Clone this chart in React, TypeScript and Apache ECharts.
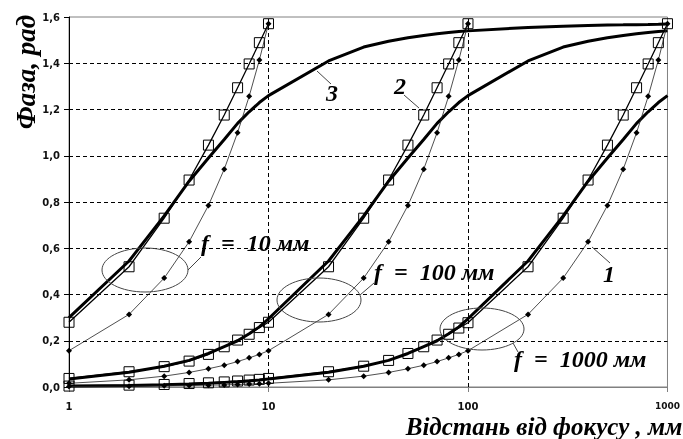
import React, { useEffect, useRef } from "react";
import * as echarts from "echarts";

// distances (mm)
const xF10 = [1, 2, 3, 4, 5, 6, 7, 8, 9, 10];
const xF100 = [1, 2, 3, 4, 5, 6, 7, 8, 9, 10, 20, 30, 40, 50, 60, 70, 80, 90, 100];
const xF1000 = [1, 2, 3, 4, 5, 6, 7, 8, 9, 10, 20, 30, 40, 50, 60, 70, 80, 90, 100, 200, 300, 400, 500, 600, 700, 800, 900, 1000];

// curve 2 (squares)
const sq10 = [0.28, 0.52, 0.73, 0.895, 1.046, 1.176, 1.294, 1.397, 1.489, 1.571];
const sq100 = [0.037, 0.066, 0.088, 0.112, 0.141, 0.174, 0.203, 0.228, 0.257, 0.28, 0.52, 0.73, 0.895, 1.046, 1.176, 1.294, 1.397, 1.489, 1.571];
const sq1000 = [0.004, 0.008, 0.011, 0.015, 0.018, 0.022, 0.026, 0.03, 0.033, 0.037, 0.066, 0.09, 0.115, 0.145, 0.174, 0.203, 0.228, 0.255, 0.278, 0.52, 0.73, 0.895, 1.046, 1.176, 1.294, 1.397, 1.489, 1.571];

// curve 1 (diamonds)
const dm10 = [0.157, 0.314, 0.471, 0.628, 0.785, 0.942, 1.1, 1.257, 1.414, 1.571];
const dm100 = [0.016, 0.031, 0.047, 0.063, 0.079, 0.094, 0.11, 0.126, 0.141, 0.157, 0.314, 0.471, 0.628, 0.785, 0.942, 1.1, 1.257, 1.414, 1.571];
const dm1000 = [0.002, 0.003, 0.005, 0.006, 0.008, 0.009, 0.011, 0.013, 0.014, 0.016, 0.031, 0.047, 0.063, 0.079, 0.094, 0.11, 0.126, 0.141, 0.157, 0.314, 0.471, 0.628, 0.785, 0.942, 1.1, 1.257, 1.414, 1.571];

// curve 3 (thick)
const th10 = [0.3, 0.545, 0.74, 0.89, 0.99, 1.07, 1.14, 1.19, 1.23, 1.26, 1.41, 1.47, 1.495, 1.51, 1.52, 1.528, 1.533, 1.537, 1.54, 1.555, 1.56, 1.563, 1.565, 1.566, 1.567, 1.568, 1.569, 1.57];
const th100 = [0.035, 0.064, 0.09, 0.115, 0.145, 0.175, 0.2, 0.23, 0.26, 0.295, 0.545, 0.74, 0.89, 0.99, 1.07, 1.14, 1.19, 1.23, 1.26, 1.41, 1.47, 1.495, 1.51, 1.52, 1.528, 1.533, 1.537, 1.54];
const th1000 = [0.004, 0.007, 0.01, 0.013, 0.016, 0.02, 0.023, 0.026, 0.03, 0.035, 0.064, 0.09, 0.115, 0.145, 0.175, 0.2, 0.23, 0.26, 0.295, 0.545, 0.74, 0.89, 0.99, 1.07, 1.14, 1.19, 1.23, 1.26];

const gridY = [0.2, 0.4, 0.6, 0.8, 1.0, 1.2, 1.4];
const gridX = [10, 100];

const yTitle = "Фаза, рад";
const xTitle = "Відстань від фокусу , мм";
const focusLabels = ["f  =  10 мм", "f  =  100 мм", "f  =  1000 мм"];

const pts = (xs: number[], ys: number[]) => xs.map((x, i) => [x, ys[i]]);

const SERIF = '"Liberation Serif", "DejaVu Serif", serif';

export default function App() {
  const ref = useRef<HTMLDivElement>(null);
  useEffect(() => {
    const chart = echarts.init(ref.current!, undefined, { renderer: "svg" });
    const thick = (name: string, d: number[][], extra: any = {}) => ({
      name, type: "line", data: d, symbol: "none", showSymbol: false,
      lineStyle: { color: "#000", width: 3 }, z: 2, ...extra,
    });
    const squares = (name: string, d: number[][]) => ({
      name, type: "line", data: d, symbol: "rect", symbolSize: 10,
      itemStyle: { color: "rgba(255,255,255,0)", borderColor: "#000", borderWidth: 1 },
      lineStyle: { color: "#000", width: 1.3 }, z: 3,
    });
    const diamonds = (name: string, d: number[][]) => ({
      name, type: "line", data: d, symbol: "diamond", symbolSize: 6,
      itemStyle: { color: "#000" },
      lineStyle: { color: "#222", width: 0.8 }, z: 4,
    });
    const titleFont = `italic bold 24px ${SERIF}`;
    chart.setOption({
      animation: false,
      grid: { left: 69, right: 15, top: 17, bottom: 52, show: true, borderColor: "#808080", borderWidth: 1 },
      xAxis: {
        type: "log", logBase: 10, min: 1, max: 1000,
        axisLine: { lineStyle: { color: "#808080", width: 1 } },
        axisTick: { show: true, length: 5, lineStyle: { color: "#808080" } },
        splitLine: { show: false },
        minorTick: { show: false },
        axisLabel: {
          margin: 14, color: "#111", fontFamily: "DejaVu Sans", fontWeight: "bold", fontSize: 10,
          formatter: (v: number) => (v >= 1000 ? `{s|${Math.round(v)}}` : String(Math.round(v))),
          rich: { s: { fontSize: 9, fontFamily: "DejaVu Sans", fontWeight: "bold", color: "#111" } },
        },
      },
      yAxis: {
        type: "value", min: 0, max: 1.6, interval: 0.2,
        axisLine: { show: true, lineStyle: { color: "#000", width: 1 } },
        axisTick: { show: true, length: 5, lineStyle: { color: "#000" } },
        splitLine: { show: false },
        axisLabel: {
          margin: 9, color: "#111", fontFamily: "DejaVu Sans", fontWeight: "bold", fontSize: 10,
          formatter: (v: number) => v.toFixed(1).replace(".", ","),
        },
      },
      series: [
        thick("th1000", pts(xF1000, th1000), {
          markLine: {
            silent: true, symbol: "none", label: { show: false },
            lineStyle: { color: "#000", type: [4, 3], width: 1 },
            data: [...gridY.map((v) => ({ yAxis: v })), ...gridX.map((v) => ({ xAxis: v }))],
          },
        }),
        thick("th100", pts(xF1000, th100)),
        thick("th10", pts(xF1000, th10)),
        squares("sq1000", pts(xF1000, sq1000)),
        squares("sq100", pts(xF100, sq100)),
        squares("sq10", pts(xF10, sq10)),
        diamonds("dm1000", pts(xF1000, dm1000)),
        diamonds("dm100", pts(xF100, dm100)),
        diamonds("dm10", pts(xF10, dm10)),
      ],
      graphic: [
        { type: "text", x: 26, y: 72, rotation: Math.PI / 2, style: { text: yTitle, font: `italic bold 27px ${SERIF}`, fill: "#000", textAlign: "center", textVerticalAlign: "middle" } },
        { type: "text", x: 544, y: 426, style: { text: xTitle, font: `italic bold 25px ${SERIF}`, fill: "#000", textAlign: "center", textVerticalAlign: "middle" } },
        // ellipses
        { type: "ellipse", shape: { cx: 145, cy: 270, rx: 43, ry: 22 }, style: { fill: "none", stroke: "#444", lineWidth: 1 }, z: 10 },
        { type: "ellipse", shape: { cx: 319, cy: 300, rx: 42, ry: 22 }, style: { fill: "none", stroke: "#444", lineWidth: 1 }, z: 10 },
        { type: "ellipse", shape: { cx: 482, cy: 329, rx: 42, ry: 21 }, style: { fill: "none", stroke: "#444", lineWidth: 1 }, z: 10 },
        // leaders
        { type: "line", shape: { x1: 188, y1: 270, x2: 201, y2: 257 }, style: { stroke: "#444", lineWidth: 1 }, z: 10 },
        { type: "line", shape: { x1: 360, y1: 295, x2: 374, y2: 283 }, style: { stroke: "#444", lineWidth: 1 }, z: 10 },
        { type: "line", shape: { x1: 513, y1: 343, x2: 518, y2: 352 }, style: { stroke: "#444", lineWidth: 1 }, z: 10 },
        { type: "line", shape: { x1: 317, y1: 71, x2: 331, y2: 84 }, style: { stroke: "#444", lineWidth: 1 }, z: 10 },
        { type: "line", shape: { x1: 404, y1: 95, x2: 419, y2: 108 }, style: { stroke: "#444", lineWidth: 1 }, z: 10 },
        { type: "line", shape: { x1: 592, y1: 247, x2: 610, y2: 263 }, style: { stroke: "#444", lineWidth: 1 }, z: 10 },
        // focus labels
        { type: "text", x: 201, y: 243, style: { text: focusLabels[0], font: titleFont, fill: "#000", textAlign: "left", textVerticalAlign: "middle" }, z: 11 },
        { type: "text", x: 374, y: 272, style: { text: focusLabels[1], font: titleFont, fill: "#000", textAlign: "left", textVerticalAlign: "middle" }, z: 11 },
        { type: "text", x: 514, y: 359, style: { text: focusLabels[2], font: titleFont, fill: "#000", textAlign: "left", textVerticalAlign: "middle" }, z: 11 },
        // curve numbers
        { type: "text", x: 332, y: 93, style: { text: "3", font: titleFont, fill: "#000", textAlign: "center", textVerticalAlign: "middle" }, z: 11 },
        { type: "text", x: 400, y: 86, style: { text: "2", font: titleFont, fill: "#000", textAlign: "center", textVerticalAlign: "middle" }, z: 11 },
        { type: "text", x: 609, y: 274, style: { text: "1", font: titleFont, fill: "#000", textAlign: "center", textVerticalAlign: "middle" }, z: 11 },
      ],
    });
    return () => chart.dispose();
  }, []);
  return <div ref={ref} style={{ position: "fixed", left: 0, top: 0, width: 683, height: 439 }} />;
}
